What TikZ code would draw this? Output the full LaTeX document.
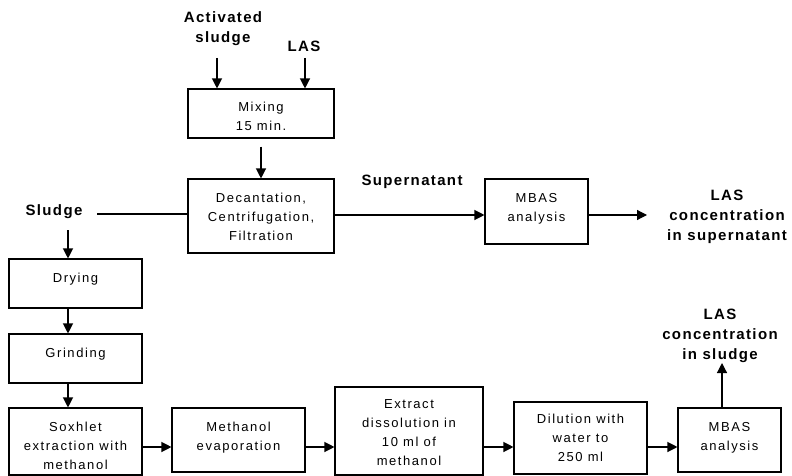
\documentclass[tikz,border=0pt]{standalone}
\usepackage{fontspec}
\setmainfont{Liberation Sans}[LetterSpace=12]
\newfontfamily\lblfont{Liberation Sans}[LetterSpace=9]
\usepackage{tikz}
\usetikzlibrary{arrows.meta}
\tikzstyle{stage}=[rectangle, draw, line width=1.1pt, inner sep=0pt, fill=white, font=\fontsize{13}{19}\selectfont]
\tikzstyle{lbl}=[inner sep=0pt, align=center, font=\lblfont\bfseries\fontsize{15}{20}\selectfont]
\tikzstyle{edge}=[line width=1.2pt, -{Triangle[length=10pt,width=10pt]}]
\tikzstyle{pipe}=[-, line width=1.2pt]
\newcommand{\stagetext}[4][23pt]{\parbox[c][#3][t]{#2}{\centering\rule{0pt}{#1}#4}}

\begin{document}
\begin{tikzpicture}[x=1pt,y=-1pt]
				\useasboundingbox (0,0) rectangle (792,476);
				%The inputs
				\draw (223,29) node[lbl] (act) {Activated\\sludge};
				\draw (304,46) node[lbl] (las) {LAS};
				\draw (54,211.5) node[lbl] (sludge) {Sludge};
				\coordinate (actin) at (217,58);
				\coordinate (lasin) at (305,58);
				\coordinate (slin) at (97,214);
				\coordinate (sldown) at (68,230);
				
				%The upper line
				\draw (261,113.5) node[stage] (mix) {\stagetext{146pt}{49pt}{Mixing\\15 min.}};
				\draw (261,216) node[stage] (dec) {\stagetext{146pt}{74pt}{Decantation,\\Centrifugation,\\Filtration}};
				\draw (536.5,211.5) node[stage] (mbas-a) {\stagetext{103pt}{65pt}{MBAS\\analysis}};
				\draw (412,181.5) node[lbl] (sup) {Supernatant};
				\draw (727,217) node[lbl] (out-a) {LAS\\concentration\\in supernatant};
				\coordinate (supout) at (647,215);
				
				\draw[edge] (actin) -- (actin |- mix.north);
				\draw[edge] (lasin) -- (lasin |- mix.north);
				\draw[edge, shorten <=8pt] (mix.south) -- (dec.north);
				\draw[pipe] (slin) -- (slin -| dec.west);
				\draw[edge] (dec.east |- supout) -- (mbas-a.west |- supout);
				\draw[edge] (mbas-a.east |- supout) -- (supout);
				
				%The sludge line
				\draw (75.5,283.5) node[stage] (dry) {\stagetext{133pt}{49pt}{Drying}};
				\draw (75.5,358.5) node[stage] (grind) {\stagetext{133pt}{49pt}{Grinding}};
				\draw (75.5,441.5) node[stage] (sox) {\stagetext{133pt}{67pt}{Soxhlet\\extraction with\\methanol}};
				\draw (238.5,440) node[stage] (meth) {\stagetext{133pt}{64pt}{Methanol\\evaporation}};
				\draw (409,431) node[stage] (ext) {\stagetext[21pt]{148pt}{88pt}{Extract\\dissolution in\\10 ml of\\methanol}};
				\draw (580.5,438) node[stage] (dil) {\stagetext[21pt]{133pt}{72pt}{Dilution with\\water to\\250 ml}};
				\draw (729.5,440) node[stage] (mbas-b) {\stagetext{103pt}{64pt}{MBAS\\analysis}};
				\draw (720,335.5) node[lbl] (out-b) {LAS\\concentration\\in sludge};
				\coordinate (row) at (0,447);
				\coordinate (up) at (722,363);
				
				\draw[edge] (sldown) -- (sldown |- dry.north);
				\draw[edge] (sldown |- dry.south) -- (sldown |- grind.north);
				\draw[edge] (sldown |- grind.south) -- (sldown |- sox.north);
				\draw[edge] (sox.east |- row) -- (meth.west |- row);
				\draw[edge] (meth.east |- row) -- (ext.west |- row);
				\draw[edge] (ext.east |- row) -- (dil.west |- row);
				\draw[edge] (dil.east |- row) -- (mbas-b.west |- row);
				\draw[edge] (up |- mbas-b.north) -- (up);
			\end{tikzpicture}
\end{document}
